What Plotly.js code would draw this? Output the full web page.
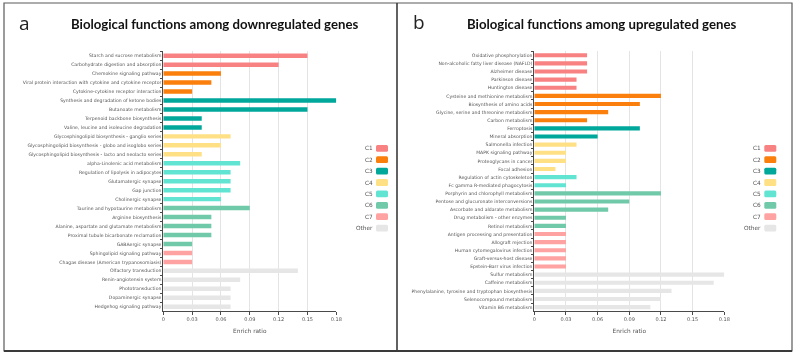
<!DOCTYPE html>
<html>
<head>
<meta charset="utf-8">
<script src="https://cdn.plot.ly/plotly-3.0.1.min.js"></script>
<style>
  html, body { margin: 0; padding: 0; background: #ffffff; }
  #chart { width: 795px; height: 357px; }
  /* grayscale antialiasing for the small labels */
  .main-svg { will-change: transform; }
</style>
</head>
<body>
<div id="chart"></div>
<script>
// Cluster groups and their colours
const groupNames  = ["C1", "C2", "C3", "C4", "C5", "C6", "C7", "Other"];
const groupColors = ["#F88181", "#FB7F0C", "#00A89C", "#FFE085", "#62E4D3", "#70C9A9", "#FFA2A2", "#E6E6E6"];

// Panel a: pathways among downregulated genes
const downTerms = [
  "Starch and sucrose metabolism",
  "Carbohydrate digestion and absorption",
  "Chemokine signaling pathway",
  "Viral protein interaction with cytokine and cytokine receptor",
  "Cytokine-cytokine receptor interaction",
  "Synthesis and degradation of ketone bodies",
  "Butanoate metabolism",
  "Terpenoid backbone biosynthesis",
  "Valine, leucine and isoleucine degradation",
  "Glycosphingolipid biosynthesis - ganglio series",
  "Glycosphingolipid biosynthesis - globo and isoglobo series",
  "Glycosphingolipid biosynthesis - lacto and neolacto series",
  "alpha-Linolenic acid metabolism",
  "Regulation of lipolysis in adipocytes",
  "Glutamatergic synapse",
  "Gap junction",
  "Cholinergic synapse",
  "Taurine and hypotaurine metabolism",
  "Arginine biosynthesis",
  "Alanine, aspartate and glutamate metabolism",
  "Proximal tubule bicarbonate reclamation",
  "GABAergic synapse",
  "Sphingolipid signaling pathway",
  "Chagas disease (American trypanosomiasis)",
  "Olfactory transduction",
  "Renin-angiotensin system",
  "Phototransduction",
  "Dopaminergic synapse",
  "Hedgehog signaling pathway"
];
const downRatios = [
  0.15, 0.12,
  0.06, 0.05, 0.03,
  0.18, 0.15, 0.04, 0.04,
  0.07, 0.06, 0.04,
  0.08, 0.07, 0.07, 0.07, 0.06,
  0.09, 0.05, 0.05, 0.05, 0.03,
  0.03, 0.03,
  0.14, 0.08, 0.07, 0.07, 0.07
];
const downGroups = [
  "C1", "C1",
  "C2", "C2", "C2",
  "C3", "C3", "C3", "C3",
  "C4", "C4", "C4",
  "C5", "C5", "C5", "C5", "C5",
  "C6", "C6", "C6", "C6", "C6",
  "C7", "C7",
  "Other", "Other", "Other", "Other", "Other"
];

// Panel b: pathways among upregulated genes
const upTerms = [
  "Oxidative phosphorylation",
  "Non-alcoholic fatty liver disease (NAFLD)",
  "Alzheimer disease",
  "Parkinson disease",
  "Huntington disease",
  "Cysteine and methionine metabolism",
  "Biosynthesis of amino acids",
  "Glycine, serine and threonine metabolism",
  "Carbon metabolism",
  "Ferroptosis",
  "Mineral absorption",
  "Salmonella infection",
  "MAPK signaling pathway",
  "Proteoglycans in cancer",
  "Focal adhesion",
  "Regulation of actin cytoskeleton",
  "Fc gamma R-mediated phagocytosis",
  "Porphyrin and chlorophyll metabolism",
  "Pentose and glucuronate interconversions",
  "Ascorbate and aldarate metabolism",
  "Drug metabolism - other enzymes",
  "Retinol metabolism",
  "Antigen processing and presentation",
  "Allograft rejection",
  "Human cytomegalovirus infection",
  "Graft-versus-host disease",
  "Epstein-Barr virus infection",
  "Sulfur metabolism",
  "Caffeine metabolism",
  "Phenylalanine, tyrosine and tryptophan biosynthesis",
  "Selenocompound metabolism",
  "Vitamin B6 metabolism"
];
const upRatios = [
  0.05, 0.05, 0.05, 0.04, 0.04,
  0.12, 0.10, 0.07, 0.05,
  0.10, 0.06,
  0.04, 0.03, 0.03, 0.02,
  0.04, 0.03,
  0.12, 0.09, 0.07, 0.03, 0.03,
  0.03, 0.03, 0.03, 0.03, 0.03,
  0.18, 0.17, 0.13, 0.12, 0.11
];
const upGroups = [
  "C1", "C1", "C1", "C1", "C1",
  "C2", "C2", "C2", "C2",
  "C3", "C3",
  "C4", "C4", "C4", "C4",
  "C5", "C5",
  "C6", "C6", "C6", "C6", "C6",
  "C7", "C7", "C7", "C7", "C7",
  "Other", "Other", "Other", "Other", "Other"
];

const tickValues = [0, 0.03, 0.06, 0.09, 0.12, 0.15, 0.18];
const tickLabels = ["0", "0.03", "0.06", "0.09", "0.12", "0.15", "0.18"];

// Figure geometry in pixels
const W = 795, H = 357;
const px = v => v / W;
const py = v => 1 - v / H;

const colorOf = g => groupColors[groupNames.indexOf(g)];
const FONT = "DejaVu Sans, sans-serif";
const AXIS_COLOR = "#4a4a4a";
const TEXT_COLOR = "#555555";

const traces = [
  {
    type: "bar", orientation: "h",
    x: downRatios, y: downTerms,
    marker: { color: downGroups.map(colorOf), line: { width: 0 } },
    width: 0.5, xaxis: "x", yaxis: "y",
    hoverinfo: "x+y", showlegend: false
  },
  {
    type: "bar", orientation: "h",
    x: upRatios, y: upTerms,
    marker: { color: upGroups.map(colorOf), line: { width: 0 } },
    width: 0.5, xaxis: "x2", yaxis: "y2",
    hoverinfo: "x+y", showlegend: false
  }
];

function xAxis(domain, anchor) {
  return {
    domain: domain, anchor: anchor,
    range: [0, 0.18],
    tickmode: "array", tickvals: tickValues, ticktext: tickLabels,
    showgrid: true, gridcolor: "#e4e4e4", gridwidth: 1,
    zeroline: false,
    showline: true, linecolor: AXIS_COLOR, linewidth: 1,
    ticks: "outside", ticklen: 2.5, tickwidth: 1, tickcolor: AXIS_COLOR,
    tickfont: { family: FONT, size: 5, color: TEXT_COLOR },
    title: { text: "Enrich ratio", font: { family: FONT, size: 5.8, color: TEXT_COLOR }, standoff: 8 },
    fixedrange: true
  };
}
function yAxis(domain, anchor, cats) {
  return {
    domain: domain, anchor: anchor,
    type: "category", categoryorder: "array", categoryarray: cats,
    autorange: "reversed",
    tickson: "boundaries",
    showgrid: false, zeroline: false,
    showline: true, linecolor: AXIS_COLOR, linewidth: 1,
    ticks: "outside", ticklen: 2, tickwidth: 1, tickcolor: AXIS_COLOR,
    tickfont: { family: FONT, size: 4.6, color: TEXT_COLOR },
    fixedrange: true
  };
}

const yDomain = [py(311.2), py(51.2)];

// Panel frames and divider
const shapes = [
  { type: "rect", xref: "paper", yref: "paper", x0: px(4), x1: px(792), y0: py(351), y1: py(3),
    line: { color: "#5a5a5a", width: 1.2 } },
  { type: "line", xref: "paper", yref: "paper", x0: px(4), x1: px(792), y0: py(351), y1: py(351),
    line: { color: "#3a3a3a", width: 2.2 } },
  { type: "line", xref: "paper", yref: "paper", x0: px(397), x1: px(397), y0: py(351), y1: py(3),
    line: { color: "#3a3a3a", width: 1.6 } }
];

const TITLE_FONT = { family: "Lato, sans-serif", size: 13.2, color: "#111" };
const annotations = [
  { text: "a", xref: "paper", yref: "paper", x: px(17), y: py(23), xanchor: "left", yanchor: "middle",
    showarrow: false, font: { family: "Open Sans, sans-serif", size: 19, color: "#222" } },
  { text: "b", xref: "paper", yref: "paper", x: px(411), y: py(22), xanchor: "left", yanchor: "middle",
    showarrow: false, font: { family: "Open Sans, sans-serif", size: 19, color: "#222" } },
  { text: "<b>Biological functions among downregulated genes</b>", xref: "paper", yref: "paper",
    x: px(214), y: py(24), xanchor: "center", yanchor: "middle", showarrow: false, font: TITLE_FONT },
  { text: "<b>Biological functions among upregulated genes</b>", xref: "paper", yref: "paper",
    x: px(601), y: py(24), xanchor: "center", yanchor: "middle", showarrow: false, font: TITLE_FONT }
];

// Group key beside each panel: label on the left, rounded swatch on the right
function roundedRect(x0, x1, y0, y1, r) {
  const rx = r / W, ry = r / H;
  const X0 = px(x0), X1 = px(x1), Yt = py(y0), Yb = py(y1);
  return `M ${X0 + rx} ${Yt} L ${X1 - rx} ${Yt} Q ${X1} ${Yt} ${X1} ${Yt - ry} ` +
         `L ${X1} ${Yb + ry} Q ${X1} ${Yb} ${X1 - rx} ${Yb} L ${X0 + rx} ${Yb} ` +
         `Q ${X0} ${Yb} ${X0} ${Yb + ry} L ${X0} ${Yt - ry} Q ${X0} ${Yt} ${X0 + rx} ${Yt} Z`;
}
function addKey(swatchLeft, labelRight) {
  groupNames.forEach((g, i) => {
    const yc = 148.3 + i * 11.4;
    shapes.push({
      type: "path", xref: "paper", yref: "paper",
      path: roundedRect(swatchLeft, swatchLeft + 12, yc - 3.4, yc + 3.4, 1.5),
      fillcolor: groupColors[i], line: { width: 0 }
    });
    annotations.push({
      text: g, xref: "paper", yref: "paper", x: px(labelRight), y: py(yc),
      xanchor: "right", yanchor: "middle", showarrow: false,
      font: { family: FONT, size: 5.8, color: TEXT_COLOR }
    });
  });
}
addKey(376, 374.5);
addKey(764.3, 762.5);

const layout = {
  width: W, height: H,
  margin: { l: 0, r: 0, t: 0, b: 0 },
  paper_bgcolor: "#ffffff", plot_bgcolor: "#ffffff",
  showlegend: false,
  bargap: 0.5,
  xaxis: xAxis([px(163.3), px(336.3)], "y"),
  yaxis: yAxis(yDomain, "x", downTerms),
  xaxis2: xAxis([px(534.3), px(724.3)], "y2"),
  yaxis2: yAxis(yDomain, "x2", upTerms),
  shapes: shapes,
  annotations: annotations
};

Plotly.newPlot("chart", traces, layout, { displayModeBar: false, staticPlot: true });
</script>
</body>
</html>
